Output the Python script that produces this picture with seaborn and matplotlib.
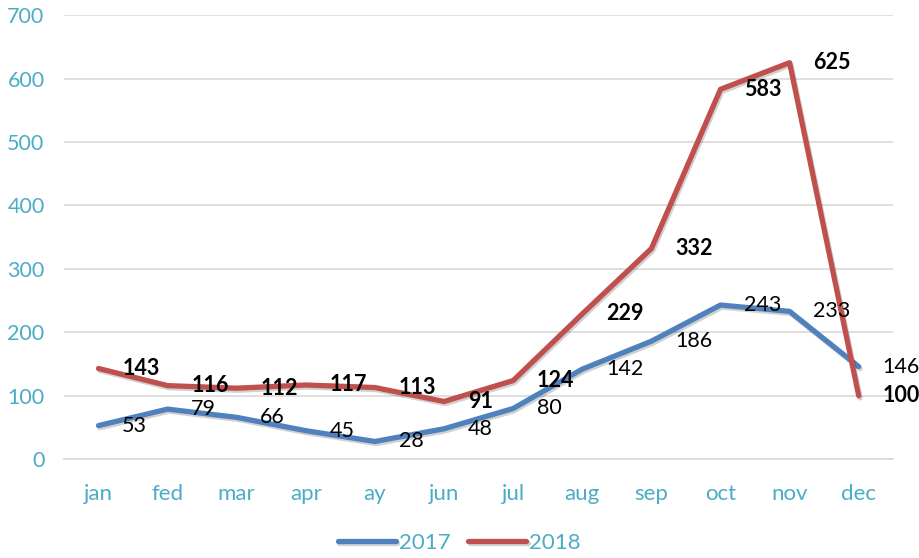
import matplotlib
matplotlib.use("Agg")
import matplotlib.pyplot as plt
import matplotlib.patheffects as pe
from matplotlib.ticker import FixedLocator
import pandas as pd
import seaborn as sns

months = ["jan", "fed", "mar", "apr", "ay", "jun", "jul", "aug", "sep", "oct", "nov", "dec"]
vals_2017 = [53, 79, 66, 45, 28, 48, 80, 142, 186, 243, 233, 146]
vals_2018 = [143, 116, 112, 117, 113, 91, 124, 229, 332, 583, 625, 100]

BLUE = "#4f81bd"
RED = "#c0504d"
TEAL = "#4bacc6"

sns.set_theme(style="white")
plt.rcParams["font.family"] = ["Lato", "DejaVu Sans"]

df = pd.DataFrame({
    "month": months * 2,
    "value": vals_2017 + vals_2018,
    "year": ["2017"] * len(months) + ["2018"] * len(months),
})

fig = plt.figure(figsize=(9.19, 5.58), dpi=100)
ax = fig.add_axes([0.0696, 0.177, 0.9024, 0.796])

shadow = [pe.SimpleLineShadow(offset=(1, -1.5), alpha=0.2), pe.Normal()]
sns.lineplot(data=df, x="month", y="value", hue="year", palette=[BLUE, RED],
             linewidth=3.8, ax=ax, sort=False)
for ln in ax.lines:
    ln.set_path_effects(shadow)
    ln.set_solid_joinstyle("round")

# data labels to the right of each point
for i, v in enumerate(vals_2017):
    ax.annotate(str(v), (i, v), xytext=(17, 0), textcoords="offset points",
                ha="left", va="center", fontsize=15.5, color="black")
for i, v in enumerate(vals_2018):
    ax.annotate(str(v), (i, v), xytext=(17, 0), textcoords="offset points",
                ha="left", va="center", fontsize=15.5, color="black",
                fontweight="bold")

ax.set_xlim(-0.5, len(months) - 0.5)
ax.set_ylim(0, 700)
ax.set_yticks(range(0, 701, 100))
ax.yaxis.grid(True, color="#d9d9d9", linewidth=1.2)
ax.set_axisbelow(True)
ax.set_xlabel("")
ax.set_ylabel("")

for s in ("left", "right", "top"):
    ax.spines[s].set_visible(False)
ax.spines["bottom"].set_color("#d9d9d9")
ax.spines["bottom"].set_linewidth(1.2)

ax.tick_params(axis="x", which="major", length=0, pad=18, labelsize=16, labelcolor=TEAL)
ax.xaxis.set_minor_locator(FixedLocator([i - 0.5 for i in range(len(months) + 1)]))
ax.tick_params(axis="x", which="minor", length=6, width=1.2, color="#d9d9d9", direction="out")
ax.tick_params(axis="y", length=0, pad=14, labelsize=15.5, labelcolor=TEAL)

leg = ax.legend(loc="center", bbox_to_anchor=(0.5, 0.027), bbox_transform=fig.transFigure,
                ncol=2, frameon=False, fontsize=16, handlelength=2.6,
                handletextpad=0.15, columnspacing=0.8)
for t in leg.get_texts():
    t.set_color(TEAL)
for h in leg.get_lines():
    h.set_linewidth(3.8)

fig.savefig("out.png", dpi=100)
